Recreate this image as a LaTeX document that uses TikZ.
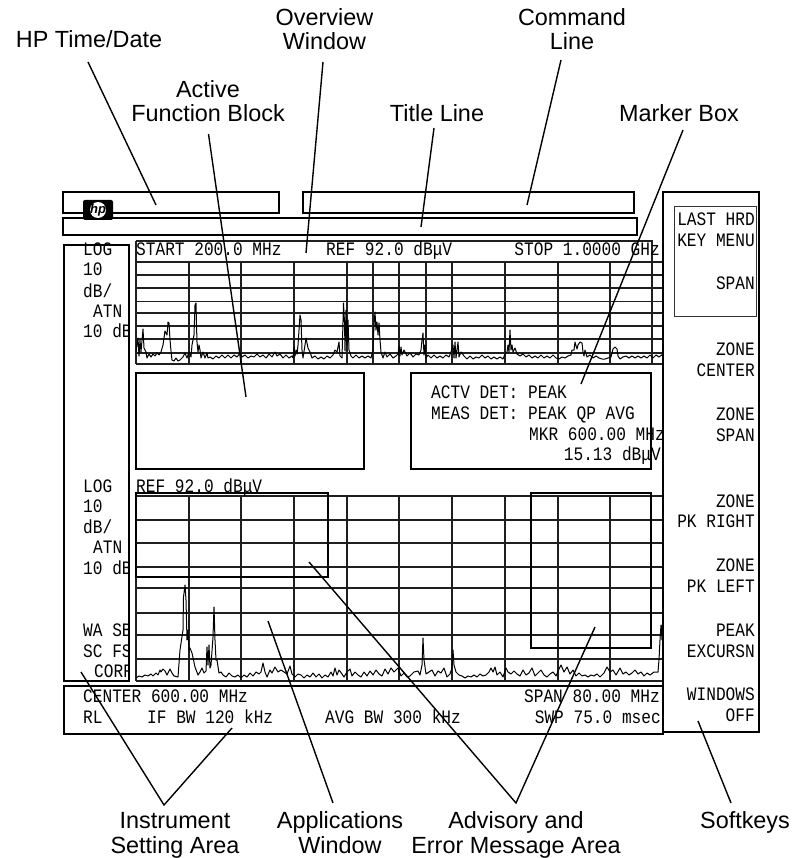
\documentclass[tikz,border=0pt]{standalone}
\usepackage{fontspec}
\setmainfont{Liberation Sans}
\newfontfamily\scrfam[FakeStretch=0.85]{Liberation Mono}
\newcommand{\scrfont}{\scrfam\fontsize{19}{20}\selectfont}
\newcommand{\lblfont}{\rmfamily\fontsize{23.4}{24.6}\selectfont}
\tikzset{
  boxline/.style={draw=black,line width=1.5pt},
  gridline/.style={draw=black!88,line width=1.1pt},
  trace/.style={draw=black,line width=1pt,line join=round},
  leader/.style={draw=black,line width=1.4pt},
  scrl/.style={inner sep=0pt,anchor=base west,font=\scrfont},
  scrr/.style={inner sep=0pt,anchor=base east,font=\scrfont},
  lbl/.style={inner sep=0pt,anchor=base,align=center,font=\lblfont},
}
\begin{document}
\begin{tikzpicture}[x=1pt,y=-1pt]
\useasboundingbox (0,0) rectangle (798,858);
% grids
\foreach \y in {262,275,288,301.5,313,326,339,353,364} \draw[gridline] (136,\y) -- (663,\y);
\foreach \x in {189,241,294,347,373,399,426,452,505,558,610} \draw[gridline] (\x,262) -- (\x,364);
\draw[gridline] (136,241) -- (652,241) -- (652,364);
\draw[gridline] (136,241) -- (136,364);
\foreach \y in {496,520,543,567,588,613,635,659,681} \draw[gridline] (136,\y) -- (663,\y);
\foreach \x in {136,189,241,294,347,399,452,505,558,610} \draw[gridline] (\x,496) -- (\x,681);
% traces
\draw[trace] plot coordinates {(136,352)(138,338)(139,356)(140,340)(141,352)(143,329)(144,348)(146,352)(147,358)(149,354)(151,357)(153,354)(155,356)(157,353)(159,355)(161,352)(163,345)(165,331)(167,335)(168,322)(169,323)(170,340)(171,351)(172,360)(174,361)(176,358)(178,361)(180,360)(183,357)(185,353)(187,358)(189,352)(191,357)(192,345)(194,335)(195,305)(196,303)(196.5,325)(197,342)(198,352)(199,345)(200,350)(201,358)(203,352)(205,358)(207,353)(208,358)(210,357)(213,359)(216,356)(219,358)(222,355)(225,358)(228,355)(231,358)(234,355)(237,357)(240,353)(242,357)(245,355)(248,358)(251,356)(254,357)(257,354)(260,357)(263,355)(266,358)(269,354)(272,357)(275,352)(277,356)(280,354)(283,358)(286,355)(289,358)(292,356)(293,358)(294,347)(295,356)(296,350)(297,354)(298,345)(300,315)(301,320)(302,350)(303,358)(305,345)(306,338)(308,348)(310,352)(312,358)(315,356)(318,359)(321,357)(324,359)(327,356)(330,358)(333,355)(335,350)(337,352)(339,342)(340,356)(342,358)(343,322)(343.5,303)(344.5,322)(345,351)(346,310)(347,345)(348,320)(349,350)(351,356)(353,358)(356,355)(359,358)(362,356)(365,358)(368,356)(371,358)(373,350)(374,325)(375,312)(376,330)(377,322)(378,335)(379,323)(380,340)(381,352)(383,358)(385,352)(387,357)(390,354)(393,358)(396,356)(398,354)(399,346)(400,356)(401,347)(402,355)(404,350)(407,356)(410,353)(413,357)(416,354)(419,355)(421,350)(422,340)(423,333)(424,355)(425,345)(426,358)(428,355)(431,358)(434,355)(437,358)(440,356)(443,358)(446,355)(449,357)(451,352)(453,345)(454,358)(455,342)(456,358)(458,342)(459,357)(461,352)(464,356)(467,359)(470,356)(473,359)(476,357)(479,358)(482,355)(485,358)(488,356)(491,359)(494,357)(497,359)(500,357)(503,359)(505,354)(507,352)(508,345)(509,352)(510,330)(511,350)(512,345)(513,352)(515,348)(517,354)(520,356)(523,354)(526,357)(529,355)(532,358)(535,356)(538,358)(541,355)(544,358)(547,356)(550,358)(553,355)(556,358)(559,359)(562,357)(565,358)(568,356)(571,355)(572,350)(574,350)(575,342)(577,349)(578,345)(580,342)(582,343)(583,352)(584,356)(585,350)(587,357)(590,355)(593,358)(596,356)(599,358)(602,359)(605,359)(608,358)(611,357)(613,349)(615,347)(617,349)(618,356)(620,359)(623,357)(626,356)(629,358)(632,356)(635,358)(638,356)(641,358)(644,356)(647,358)(650,355)(653,358)(656,355)(659,357)(663,354)};
\draw[trace] plot coordinates {(136,678)(139,676)(142,677)(145,675)(148,676)(151,674)(153,676)(156,673)(158,675)(160,670)(161,672)(163,669)(165,671)(167,675)(170,669)(172,673)(174,676)(178,677)(180,650)(183,630)(183.5,597)(185,585)(186,600)(187,640)(188,630)(189,650)(190,648)(192,653)(195,667)(198,675)(200,672)(202,668)(204,673)(206,671)(207,647)(208,665)(209,645)(210,668)(211,665)(213,637)(214,607)(215,640)(216,660)(217,660)(219,673)(221,672)(223,675)(226,677)(229,673)(232,676)(235,677)(238,675)(241,678)(244,675)(247,677)(250,673)(253,676)(256,672)(259,674)(261,672)(263,663)(265,672)(267,677)(270,670)(272,673)(275,667)(278,672)(281,670)(284,672)(287,674)(290,666)(292,674)(295,677)(298,674)(301,675)(304,678)(307,675)(310,677)(313,673)(316,677)(319,674)(322,678)(325,675)(328,677)(331,672)(333,676)(335,668)(337,675)(339,670)(342,674)(344,677)(347,672)(350,669)(352,676)(355,672)(358,675)(361,677)(364,672)(367,676)(370,671)(373,675)(376,670)(379,674)(382,676)(385,669)(388,674)(391,668)(394,672)(398,668)(401,676)(404,673)(407,677)(410,676)(414,672)(418,671)(420,675)(422,665)(423,638)(424,660)(426,674)(429,672)(432,670)(435,676)(438,671)(441,673)(444,668)(447,677)(450,674)(452,668)(453,650)(454,665)(456,672)(459,675)(462,676)(465,678)(468,676)(471,677)(474,675)(477,677)(480,674)(483,676)(486,675)(489,672)(491,668)(493,672)(495,667)(497,675)(500,672)(503,677)(506,668)(508,672)(511,674)(514,671)(517,674)(520,676)(523,670)(526,675)(529,673)(532,668)(535,676)(538,673)(541,670)(544,675)(547,677)(550,674)(553,672)(556,676)(559,669)(561,665)(564,672)(567,667)(570,674)(573,670)(576,676)(579,673)(582,676)(585,675)(588,677)(591,675)(594,676)(597,674)(600,677)(604,673)(607,667)(610,672)(613,670)(616,675)(620,668)(623,674)(626,672)(629,675)(632,673)(635,670)(638,674)(641,672)(644,676)(647,673)(650,675)(654,672)(658,672)(659,660)(660,640)(661,625)(662,640)(662.5,625)(663,650)};
% header texts
\node[scrl] (tStart) at (136,255) {START 200.0 MHz};
\node[scrl] (tRef) at (326,255) {REF 92.0 dBμV};
\node[scrr] (tStop) at (660,255) {STOP 1.0000 GHz};
\node[scrl] (tRefB) at (136,492) {REF 92.0 dBμV};
% left column, cut off by the box edge
\begin{scope}
\clip (60,235) rectangle (129,682);
\node[scrl] (a1) at (83,255) {LOG};
\node[scrl] (a2) at (83,276) {10};
\node[scrl] (a3) at (83,297) {dB/};
\node[scrl] (a4) at (93,317) {ATN};
\node[scrl] (a5) at (83,337) {10 dB};
\node[scrl] (b1) at (83,492) {LOG};
\node[scrl] (b2) at (83,512) {10};
\node[scrl] (b3) at (83,533) {dB/};
\node[scrl] (b4) at (93,553) {ATN};
\node[scrl] (b5) at (83,574) {10 dB};
\node[scrl] (b6) at (83,636) {WA SB};
\node[scrl] (b7) at (83,657) {SC FS};
\node[scrl] (b8) at (94,677) {CORR};
\end{scope}
% boxes
\draw[boxline,fill=white] (63,192) rectangle (279,213);
\draw[boxline] (303,192) rectangle (634,213);
\draw[boxline] (63,218) rectangle (637,235);
\draw[boxline] (64,245) rectangle (129,681);
\draw[boxline,fill=white] (136,373) rectangle (364,469);
\draw[boxline,fill=white] (411,373) rectangle (651,469);
\draw[boxline] (136,493) rectangle (328,577);
\draw[boxline] (531,493) rectangle (651,648);
\draw[boxline] (64,686) rectangle (663,734);
\draw[boxline] (663,192) rectangle (759,732);
\draw[draw=black!80,line width=1pt] (674,207) rectangle (756,316);
% logo
\node[fill=black,rounded corners=2pt,minimum width=30pt,minimum height=20pt,inner sep=0pt] (hpbg) at (98,210) {};
\node[fill=white,circle,minimum size=16pt,inner sep=0pt] (hpdisc) at (98,210) {};
\node[inner sep=0pt,font=\rmfamily\bfseries\itshape\fontsize{13}{13}\selectfont] (hplogo) at (98,210) {hp};
% marker text
\node[scrl] (m1) at (431,398) {ACTV DET: PEAK};
\node[scrl] (m2) at (431,419) {MEAS DET: PEAK QP AVG};
\node[scrr] (m3) at (665,440) {MKR 600.00 MHz};
\node[scrr] (m4) at (661,460) {15.13 dBμV};
% softkeys
\node[scrr] (s1) at (755,226) {LAST HRD};
\node[scrr] (s2) at (755,247) {KEY MENU};
\node[scrr] (s3) at (755,290) {SPAN};
\node[scrr] (s4) at (755,355) {ZONE};
\node[scrr] (s5) at (755,376) {CENTER};
\node[scrr] (s6) at (755,420) {ZONE};
\node[scrr] (s7) at (755,441) {SPAN};
\node[scrr] (s8) at (755,507) {ZONE};
\node[scrr] (s9) at (755,527) {PK RIGHT};
\node[scrr] (s10) at (755,571) {ZONE};
\node[scrr] (s11) at (755,592) {PK LEFT};
\node[scrr] (s12) at (755,636) {PEAK};
\node[scrr] (s13) at (755,657) {EXCURSN};
\node[scrr] (s14) at (755,700) {WINDOWS};
\node[scrr] (s15) at (755,721) {OFF};
% bottom bar
\node[scrl] (c1) at (83,702) {CENTER 600.00 MHz};
\node[scrl] (c2) at (83,723) {RL};
\node[scrl] (c3) at (147,723) {IF BW 120 kHz};
\node[scrl] (c4) at (325,723) {AVG BW 300 kHz};
\node[scrr] (c5) at (660,702) {SPAN 80.00 MHz};
\node[scrr] (c6) at (661,723) {SWP 75.0 msec};
% labels
\node[lbl] (lHP) at (89,48) {HP Time/Date};
\node[lbl] (lOv) at (324.5,50) {Overview\\Window};
\node[lbl] (lCmd) at (572,50) {Command\\Line};
\node[lbl] (lAct) at (208,122) {Active\\Function Block};
\node[lbl] (lTitle) at (437,122) {Title Line};
\node[lbl] (lMark) at (679,122) {Marker Box};
\node[lbl] (lInst) at (175,853) {Instrument\\Setting Area};
\node[lbl] (lApp) at (340,853) {Applications\\Window};
\node[lbl] (lAdv) at (516,853) {Advisory and\\Error Message Area};
\node[lbl] (lSoft) at (745,828) {Softkeys};
% leader ends
\coordinate (p1a) at (88,62);   \coordinate (p1b) at (156,205);
\coordinate (p2a) at (208.5,134); \coordinate (p2b) at (246,397);
\coordinate (p3a) at (323,62);  \coordinate (p3b) at (306,253);
\coordinate (p4a) at (561,60);  \coordinate (p4b) at (527,205);
\coordinate (p5a) at (434,128); \coordinate (p5b) at (421,227);
\coordinate (p6a) at (683,130); \coordinate (p6b) at (581,384);
\coordinate (q1) at (164,805);  \coordinate (q1a) at (81,672);  \coordinate (q1b) at (232,728);
\coordinate (q2) at (333,803);  \coordinate (q2a) at (268,621);
\coordinate (q3) at (516,803);  \coordinate (q3a) at (309,562); \coordinate (q3b) at (595,627);
\coordinate (q4) at (731,803);  \coordinate (q4a) at (698,721);
\draw[leader] (p1a) -- (p1b);
\draw[leader] (p2a) -- (p2b);
\draw[leader] (p3a) -- (p3b);
\draw[leader] (p4a) -- (p4b);
\draw[leader] (p5a) -- (p5b);
\draw[leader] (p6a) -- (p6b);
\draw[leader] (q1a) -- (q1) -- (q1b);
\draw[leader] (q2a) -- (q2);
\draw[leader] (q3a) -- (q3) -- (q3b);
\draw[leader] (q4a) -- (q4);
\end{tikzpicture}
\end{document}
